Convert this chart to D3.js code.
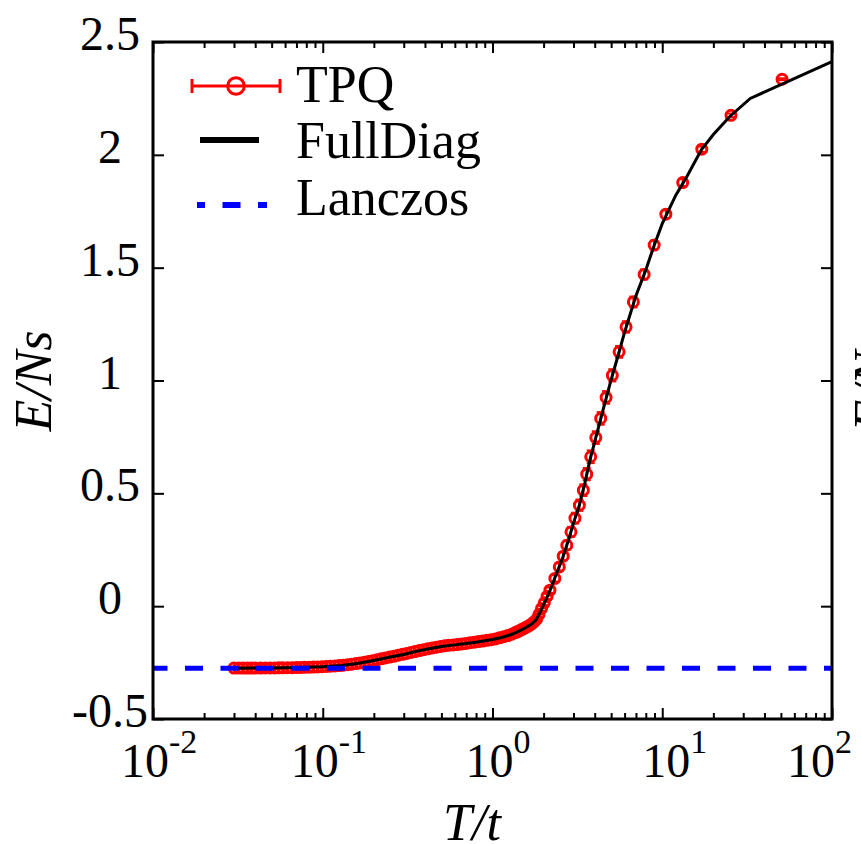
<!DOCTYPE html>
<html>
<head>
<meta charset="utf-8">
<script src="https://cdn.jsdelivr.net/npm/d3@7"></script>
<style>
    body { margin: 0; background: #fff; }
    text { font-family: "Liberation Serif", "Times New Roman", serif; fill: #000; }
</style>
</head>
<body>
<div id="chart"></div>
<script>

//****************************************************** */
// DATA - energy per site vs temperature
//****************************************************** */

// TPQ samples (T/t, E/Ns, error)
var tpqT = [0.030, 0.032, 0.034, 0.036, 0.038, 0.040, 0.043, 0.046, 0.049, 0.052,
    0.055, 0.058, 0.062, 0.066, 0.070, 0.074, 0.078, 0.083, 0.088, 0.093,
    0.099, 0.105, 0.111, 0.118, 0.125, 0.132, 0.140, 0.148, 0.157, 0.166,
    0.176, 0.186, 0.197, 0.209, 0.221, 0.234, 0.248, 0.263, 0.278, 0.295,
    0.312, 0.331, 0.350, 0.371, 0.393, 0.416, 0.441, 0.467, 0.494, 0.523,
    0.554, 0.587, 0.621, 0.658, 0.697, 0.738, 0.781, 0.827, 0.876, 0.928,
    0.983, 1.04, 1.10, 1.165, 1.23, 1.30, 1.363, 1.398, 1.435, 1.473,
    1.515, 1.558, 1.603, 1.653, 1.704, 1.758, 1.818, 1.879, 1.946, 2.018,
    2.096, 2.18, 2.33, 2.475, 2.61, 2.74, 2.90, 3.06, 3.25, 3.43,
    3.59, 3.79, 4.06, 4.34, 4.67, 5.08, 5.57, 6.12, 6.76, 7.82,
    8.96, 10.5, 13.2, 17.1, 25.4, 50.8];

var tpqE = [-0.2745, -0.2745, -0.2744, -0.2744, -0.2743, -0.2743, -0.2742, -0.2740, -0.2738, -0.2736,
    -0.2734, -0.2731, -0.2728, -0.2724, -0.2720, -0.2716, -0.2712, -0.2706, -0.2700, -0.2693,
    -0.2684, -0.2674, -0.2663, -0.2648, -0.2632, -0.2614, -0.2594, -0.2572, -0.2545, -0.2516,
    -0.2484, -0.2451, -0.2414, -0.2374, -0.2335, -0.2296, -0.2256, -0.2215, -0.2176, -0.2134,
    -0.2094, -0.2052, -0.2012, -0.1970, -0.1930, -0.1892, -0.1855, -0.1820, -0.1788, -0.1757,
    -0.1730, -0.1720, -0.1700, -0.1675, -0.1650, -0.1620, -0.1600, -0.1570, -0.1545, -0.1515,
    -0.1485, -0.1450, -0.1405, -0.1355, -0.1305, -0.1240, -0.1170, -0.1135, -0.1095, -0.1050,
    -0.1005, -0.0960, -0.0910, -0.0850, -0.0780, -0.0700, -0.0580, -0.0360, -0.0100, 0.0150,
    0.0430, 0.071, 0.123, 0.174, 0.2215, 0.270, 0.329, 0.390, 0.4475, 0.514,
    0.585, 0.662, 0.747, 0.832, 0.925, 1.023, 1.127, 1.2375, 1.348, 1.470,
    1.600, 1.737, 1.877, 2.025, 2.175, 2.335];

var tpqErr = [0.003, 0.003, 0.003, 0.003, 0.003, 0.003, 0.003, 0.003, 0.003, 0.003,
    0.003, 0.003, 0.003, 0.003, 0.003, 0.003, 0.003, 0.003, 0.003, 0.003,
    0.003, 0.003, 0.003, 0.003, 0.003, 0.003, 0.003, 0.003, 0.003, 0.003,
    0.003, 0.003, 0.003, 0.003, 0.003, 0.003, 0.003, 0.003, 0.003, 0.003,
    0.003, 0.003, 0.003, 0.003, 0.003, 0.003, 0.003, 0.003, 0.003, 0.003,
    0.004, 0.004, 0.004, 0.004, 0.004, 0.004, 0.005, 0.005, 0.005, 0.005,
    0.006, 0.006, 0.006, 0.007, 0.007, 0.008, 0.008, 0.008, 0.009, 0.009,
    0.009, 0.010, 0.010, 0.010, 0.011, 0.011, 0.011, 0.012, 0.012, 0.012,
    0.012, 0.012, 0.014, 0.016, 0.018, 0.020, 0.022, 0.024, 0.025, 0.026,
    0.027, 0.028, 0.028, 0.028, 0.028, 0.027, 0.026, 0.025, 0.024, 0.022,
    0.020, 0.018, 0.015, 0.012, 0.008, 0.004];

// Full diagonalization curve
var diagT = [0.03, 0.05, 0.07, 0.1, 0.13, 0.16, 0.2, 0.25, 0.3, 0.35,
    0.4, 0.5, 0.6, 0.7, 0.8, 0.9, 1.0, 1.1, 1.2, 1.3,
    1.4, 1.5, 1.6, 1.7, 1.8, 1.9, 2.0, 2.1, 2.2, 2.4,
    2.6, 2.8, 3.0, 3.25, 3.5, 3.75, 4.0, 4.5, 5.0, 5.5,
    6.0, 7.0, 8.0, 9.0, 10, 12, 14, 17, 20, 25,
    33, 100];

var diagE = [-0.2748, -0.2740, -0.2722, -0.2684, -0.2625, -0.2540, -0.2405, -0.2255, -0.2140, -0.2015,
    -0.1920, -0.1785, -0.1715, -0.1655, -0.1595, -0.1535, -0.1480, -0.1410, -0.1335, -0.1245,
    -0.1140, -0.1025, -0.0915, -0.0790, -0.0620, -0.0300, 0.0060, 0.0410, 0.0760, 0.1500,
    0.2180, 0.2920, 0.3680, 0.4475, 0.5450, 0.6470, 0.7280, 0.8750, 1.0040, 1.1120,
    1.2140, 1.3760, 1.4900, 1.6030, 1.6950, 1.8200, 1.9050, 2.0220, 2.0900, 2.1700,
    2.2500, 2.4130];

// Lanczos ground state energy
var lanczosE = -0.2755;

// tick labels
var xTicks = [0.01, 0.1, 1, 10, 100];
var xTickExp = ["-2", "-1", "0", "1", "2"];
var yTicks = [-0.5, 0, 0.5, 1, 1.5, 2, 2.5];
var yTickLabels = ["-0.5", "0", "0.5", "1", "1.5", "2", "2.5"];

//****************************************************** */
// CHART
//****************************************************** */

var width = 861;
var height = 844;
var plotL = 153, plotR = 832, plotT = 42, plotB = 719;

var svg = d3.select('#chart')
    .append("svg")
    .attr("width", width)
    .attr("height", height)
    .style("background-color", "#fff")

// scales
var xScale = d3.scaleLog().domain([1e-2, 1e2]).range([plotL, plotR]);
var yScale = d3.scaleLinear().domain([-0.5, 2.5]).range([plotB, plotT]);

// clip for the data
svg.append("clipPath")
    .attr("id", "plotClip")
    .append("rect")
    .attr("x", plotL)
    .attr("y", plotT)
    .attr("width", plotR - plotL)
    .attr("height", plotB - plotT);

var minorX = xScale.ticks().filter(function (d) {
    return xTicks.indexOf(d) < 0;
});

// ticks, all pointing inside
function styleTicks(g) {
    g.select(".domain").remove();
    g.selectAll("line").attr("stroke", "#000").attr("stroke-width", 2);
    g.selectAll("text").remove();
}

svg.append("g")
    .attr("transform", `translate(0, ${plotB})`)
    .call(d3.axisBottom(xScale).tickValues(xTicks).tickSize(-11))
    .call(styleTicks);
svg.append("g")
    .attr("transform", `translate(0, ${plotB})`)
    .call(d3.axisBottom(xScale).tickValues(minorX).tickSize(-6))
    .call(styleTicks);
svg.append("g")
    .attr("transform", `translate(0, ${plotT})`)
    .call(d3.axisTop(xScale).tickValues(xTicks).tickSize(-11))
    .call(styleTicks);
svg.append("g")
    .attr("transform", `translate(0, ${plotT})`)
    .call(d3.axisTop(xScale).tickValues(minorX).tickSize(-6))
    .call(styleTicks);
svg.append("g")
    .attr("transform", `translate(${plotL}, 0)`)
    .call(d3.axisLeft(yScale).tickValues(yTicks).tickSize(-11))
    .call(styleTicks);
svg.append("g")
    .attr("transform", `translate(${plotR}, 0)`)
    .call(d3.axisRight(yScale).tickValues(yTicks).tickSize(-11))
    .call(styleTicks);

// y tick labels (centered like the original)
svg.selectAll(".ylab")
    .data(yTicks)
    .enter()
    .append("text")
    .attr("class", "ylab")
    .attr("x", 110)
    .attr("y", function (d) { return yScale(d) + 8; })
    .attr("text-anchor", "middle")
    .style("font-size", "48px")
    .text(function (d, i) { return yTickLabels[i]; });

// x tick labels 10^n
var xLabShift = [-32, -32, -27, -20, -45];
var xlab = svg.selectAll(".xlab")
    .data(xTicks)
    .enter()
    .append("text")
    .attr("class", "xlab")
    .attr("x", function (d, i) { return xScale(d) + xLabShift[i]; })
    .attr("y", 777)
    .style("font-size", "48px");
xlab.append("tspan").text("10");
xlab.append("tspan")
    .attr("dy", -24)
    .style("font-size", "34px")
    .text(function (d, i) { return xTickExp[i]; });

// axis titles
svg.append("text")
    .attr("transform", "translate(51, 381) rotate(-90)")
    .attr("text-anchor", "middle")
    .style("font-size", "52px")
    .style("font-style", "italic")
    .text("E/Ns");

svg.append("text")
    .attr("x", 472)
    .attr("y", 840)
    .attr("text-anchor", "middle")
    .style("font-size", "52px")
    .style("font-style", "italic")
    .text("T/t");

// title of the neighbouring panel, cut by the edge
svg.append("text")
    .attr("transform", "translate(890, 381) rotate(-90)")
    .attr("text-anchor", "middle")
    .style("font-size", "52px")
    .style("font-style", "italic")
    .text("E/Ns");

// data layer
var plot = svg.append("g").attr("clip-path", "url(#plotClip)");

var tpq = tpqT.map(function (t, i) {
    return { T: t, E: tpqE[i], err: tpqErr[i] };
});

// TPQ error bars
var eb = plot.selectAll(".eb")
    .data(tpq)
    .enter()
    .append("g")
    .attr("class", "eb")
    .attr("stroke", "#ff0000")
    .attr("stroke-width", 2);
eb.append("line")
    .attr("x1", function (d) { return xScale(d.T); })
    .attr("x2", function (d) { return xScale(d.T); })
    .attr("y1", function (d) { return yScale(d.E - d.err); })
    .attr("y2", function (d) { return yScale(d.E + d.err); });
eb.append("line")
    .attr("x1", function (d) { return xScale(d.T) - 4; })
    .attr("x2", function (d) { return xScale(d.T) + 4; })
    .attr("y1", function (d) { return yScale(d.E - d.err); })
    .attr("y2", function (d) { return yScale(d.E - d.err); });
eb.append("line")
    .attr("x1", function (d) { return xScale(d.T) - 4; })
    .attr("x2", function (d) { return xScale(d.T) + 4; })
    .attr("y1", function (d) { return yScale(d.E + d.err); })
    .attr("y2", function (d) { return yScale(d.E + d.err); });

// TPQ open circles
plot.selectAll(".pt")
    .data(tpq)
    .enter()
    .append("circle")
    .attr("class", "pt")
    .attr("cx", function (d) { return xScale(d.T); })
    .attr("cy", function (d) { return yScale(d.E); })
    .attr("r", 5)
    .attr("fill", "none")
    .attr("stroke", "#ff0000")
    .attr("stroke-width", 3);

// full diag line
plot.append("path")
    .datum(diagT.map(function (t, i) { return [t, diagE[i]]; }))
    .attr("fill", "none")
    .attr("stroke", "#000")
    .attr("stroke-width", 3)
    .attr("d", d3.line()
        .x(function (d) { return xScale(d[0]); })
        .y(function (d) { return yScale(d[1]); }));

// Lanczos dashed line
plot.append("line")
    .attr("x1", plotL)
    .attr("x2", plotR)
    .attr("y1", yScale(lanczosE))
    .attr("y2", yScale(lanczosE))
    .attr("stroke", "#0000ff")
    .attr("stroke-width", 5)
    .attr("stroke-dasharray", "18 17.5")
    .attr("stroke-dashoffset", 3.5);

// frame
svg.append("rect")
    .attr("x", plotL)
    .attr("y", plotT)
    .attr("width", plotR - plotL)
    .attr("height", plotB - plotT)
    .attr("fill", "none")
    .attr("stroke", "#000")
    .attr("stroke-width", 3);

//****************************************************** */
// LEGEND
//****************************************************** */

var legend = svg.append("g").attr("class", "legend");

// TPQ entry: error bar symbol with circle
legend.append("line")
    .attr("x1", 192).attr("x2", 280).attr("y1", 86).attr("y2", 86)
    .attr("stroke", "#ff0000").attr("stroke-width", 3);
legend.append("line")
    .attr("x1", 192).attr("x2", 192).attr("y1", 79).attr("y2", 93)
    .attr("stroke", "#ff0000").attr("stroke-width", 3);
legend.append("line")
    .attr("x1", 280).attr("x2", 280).attr("y1", 79).attr("y2", 93)
    .attr("stroke", "#ff0000").attr("stroke-width", 3);
legend.append("circle")
    .attr("cx", 236).attr("cy", 86).attr("r", 8.3)
    .attr("fill", "#fff").attr("stroke", "#ff0000").attr("stroke-width", 3);
legend.append("line")
    .attr("x1", 228).attr("x2", 244).attr("y1", 86).attr("y2", 86)
    .attr("stroke", "#ff0000").attr("stroke-width", 3);

// FullDiag entry
legend.append("line")
    .attr("x1", 200).attr("x2", 259).attr("y1", 140).attr("y2", 140)
    .attr("stroke", "#000").attr("stroke-width", 6);

// Lanczos entry
legend.append("line")
    .attr("x1", 197).attr("x2", 267).attr("y1", 205).attr("y2", 205)
    .attr("stroke", "#0000ff").attr("stroke-width", 6)
    .attr("stroke-dasharray", "18 17.5")
    .attr("stroke-dashoffset", 10);

var legendNames = ["TPQ", "FullDiag", "Lanczos"];
var legendBase = [102, 158, 215];
legend.selectAll(".ltxt")
    .data(legendNames)
    .enter()
    .append("text")
    .attr("class", "ltxt")
    .attr("x", 296)
    .attr("y", function (d, i) { return legendBase[i]; })
    .style("font-size", "52px")
    .text(function (d) { return d; });

</script>
</body>
</html>
